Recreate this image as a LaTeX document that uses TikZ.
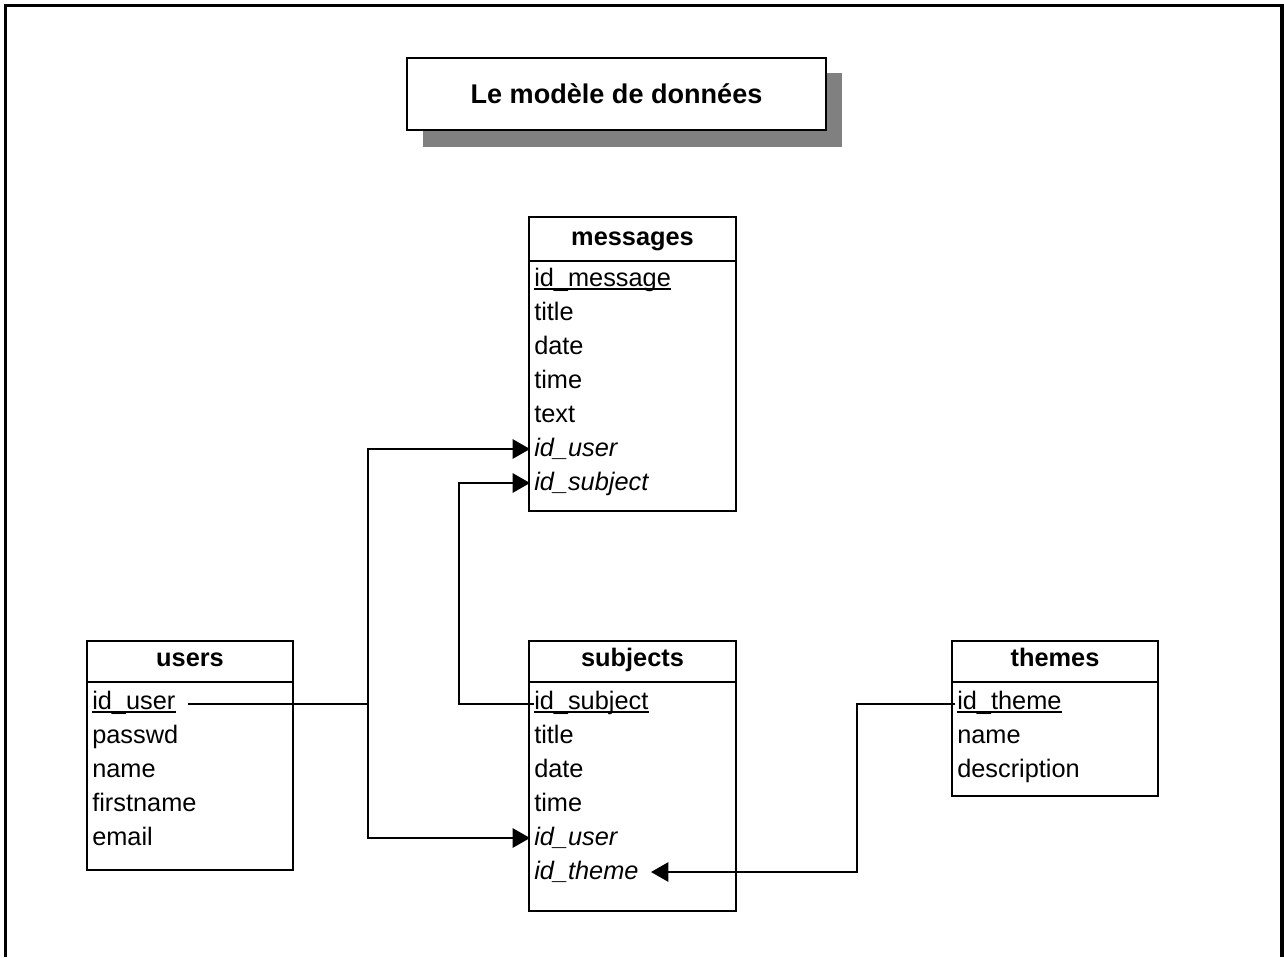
\documentclass[tikz,border=0pt]{standalone}
\usepackage{fontspec}
\setmainfont{Liberation Sans}
\usetikzlibrary{arrows.meta}
\begin{document}
\begin{tikzpicture}[x=0.75pt,y=-0.75pt,
  box/.style={draw=black, line width=1.4pt},
  conn/.style={draw=black, line width=1.3pt},
  fk/.style={conn, -{Triangle[length=13pt,width=14.5pt]}},
  row/.style={anchor=base west, inner sep=0pt, font=\fontsize{19}{22}\selectfont},
  fkrow/.style={row, font=\fontsize{19}{22}\selectfont\itshape},
  head/.style={anchor=base, inner sep=0pt, font=\fontsize{19}{22}\selectfont\bfseries},
  ul/.style={draw=black, line width=1.1pt}]
\useasboundingbox (0,0) rectangle (1284,957);
% frame
\draw[line width=2.4pt] (5.5,957) -- (5.5,5);
\draw[line width=1.6pt] (4,5.5) -- (1283,5.5);
\draw[line width=3pt] (1282,4) -- (1282,957);
% title
\fill[black!50] (423,73) rectangle (842,147);
\draw[box, fill=white] (407,58) rectangle (826,130);
\node[anchor=base, inner sep=0pt, font=\fontsize{20.3}{24}\selectfont\bfseries] (title) at (616.5,103) {Le modèle de données};

% messages table
\path (529,217) coordinate (mNW) (736,511) coordinate (mSE);
\draw[box] (mNW) rectangle (mSE);
\draw[box] (529,261) -- (736,261);
\node[head] (mh) at (632.5,245) {messages};
\node[row] (m1) at (534,286) {id\_message};
\draw[ul] ([yshift=-2.4pt]m1.base west) -- ([yshift=-2.4pt]m1.base east);
\node[row] (m2) at (534,320) {title};
\node[row] (m3) at (534,354) {date};
\node[row] (m4) at (534,388) {time};
\node[row] (m5) at (534,422) {text};
\node[fkrow] (m6) at (534,456) {id\_user};
\node[fkrow] (m7) at (534,490) {id\_subject};

% users table
\path (87,641) coordinate (uNW) (293,870) coordinate (uSE);
\draw[box] (uNW) rectangle (uSE);
\draw[box] (87,682) -- (293,682);
\node[head] (uh) at (190,666) {users};
\node[row] (u1) at (92,709) {id\_user};
\draw[ul] ([yshift=-2.4pt]u1.base west) -- ([yshift=-2.4pt]u1.base east);
\node[row] (u2) at (92,743) {passwd};
\node[row] (u3) at (92,777) {name};
\node[row] (u4) at (92,811) {firstname};
\node[row] (u5) at (92,845) {email};

% subjects table
\path (529,641) coordinate (sNW) (736,911) coordinate (sSE);
\draw[box] (sNW) rectangle (sSE);
\draw[box] (529,682) -- (736,682);
\node[head] (sh) at (632.5,666) {subjects};
\node[row] (s1) at (534,709) {id\_subject};
\draw[ul] ([yshift=-2.4pt]s1.base west) -- ([yshift=-2.4pt]s1.base east);
\node[row] (s2) at (534,743) {title};
\node[row] (s3) at (534,777) {date};
\node[row] (s4) at (534,811) {time};
\node[fkrow] (s5) at (534,845) {id\_user};
\node[fkrow] (s6) at (534,879) {id\_theme};

% themes table
\path (952,641) coordinate (tNW) (1158,796) coordinate (tSE);
\draw[box] (tNW) rectangle (tSE);
\draw[box] (952,682) -- (1158,682);
\node[head] (th) at (1055,666) {themes};
\node[row] (t1) at (957,709) {id\_theme};
\draw[ul] ([yshift=-2.4pt]t1.base west) -- ([yshift=-2.4pt]t1.base east);
\node[row] (t2) at (957,743) {name};
\node[row] (t3) at (957,777) {description};

% connectors
\coordinate (uStart) at (188,704);
\coordinate (jU) at (368,704);
\coordinate (mUserIn) at (530,449);
\coordinate (sUserIn) at (530,838);
\draw[conn] (uStart) -- (jU);
\draw[fk] (jU) |- (mUserIn);
\draw[fk] (jU) |- (sUserIn);

\coordinate (sSubjStart) at (534,704);
\coordinate (mSubjIn) at (530,483);
\draw[fk] (sSubjStart) -- (459,704) |- (mSubjIn);

\coordinate (tThemeStart) at (955,704);
\coordinate (sThemeIn) at (651,872);
\draw[fk] (tThemeStart) -- (857,704) |- (sThemeIn);
\end{tikzpicture}
\end{document}
